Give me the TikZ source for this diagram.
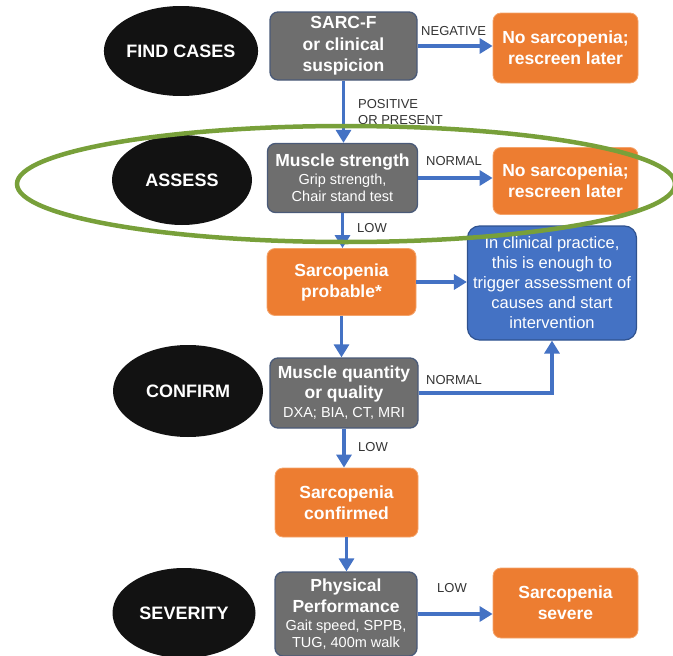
\documentclass[tikz,border=0pt]{standalone}
\usepackage{fontspec}
\setmainfont{Liberation Sans}
\usetikzlibrary{arrows.meta,shapes.geometric}
\definecolor{boxgray}{HTML}{6E6E6E}
\definecolor{slate}{HTML}{4A5A78}
\definecolor{orng}{HTML}{ED7D31}
\definecolor{orngline}{HTML}{F4A46C}
\definecolor{bluebox}{HTML}{4472C4}
\definecolor{blueline}{HTML}{2F528F}
\definecolor{arrowblue}{HTML}{4472C4}
\definecolor{lblgray}{HTML}{333333}
\definecolor{ringgreen}{HTML}{78A03A}
\begin{document}
\begin{tikzpicture}[x=1pt,y=-1pt,
  stage/.style={ellipse, fill=black!93, text=white, inner sep=0pt,
    minimum width=#1, minimum height=90pt,
    font=\bfseries\fontsize{18}{21}\selectfont},
  stage/.default=140pt,
  graybox/.style={draw=slate, line width=1.3pt, fill=boxgray, rounded corners=8pt,
    text=white, align=center, inner sep=0pt, font=\fontsize{14.5}{17}\selectfont},
  orangebox/.style={draw=orngline, line width=0.8pt, fill=orng, rounded corners=8pt,
    text=white, align=center, inner sep=0pt, font=\bfseries\fontsize{17.5}{21}\selectfont},
  bluenode/.style={draw=blueline, line width=1.2pt, fill=bluebox, rounded corners=12pt,
    text=white, align=center, inner sep=0pt, font=\fontsize{16.5}{20}\selectfont},
  arr/.style={draw=arrowblue, line width=3.4pt, -{Triangle[length=13pt,width=15pt]}},
  lbl/.style={font=\fontsize{13}{15}\selectfont, text=lblgray, inner sep=0pt, anchor=west}
]
\useasboundingbox (0,0) rectangle (673,656);

% stage ellipses
\node[stage] (fc) at (181,51) {FIND CASES};
\node[stage] (as) at (182,180) {ASSESS};
\node[stage=150pt, minimum height=92pt] (cf) at (188,391) {CONFIRM};
\node[stage=143pt, minimum height=90pt] (sv) at (184,613) {SEVERITY};

% main column
\node[graybox, minimum width=147pt, minimum height=68pt, font=\bfseries\fontsize{17.5}{21.5}\selectfont] (sarcf) at (343.5,46) {SARC-F\\or clinical\\suspicion};
\node[orangebox, minimum width=145pt, minimum height=70pt] (no1) at (565.5,48) {No sarcopenia;\\rescreen later};

\node[graybox, minimum width=150pt, minimum height=69pt] (str) at (342.5,178) {\textbf{\fontsize{17.5}{21}\selectfont Muscle strength}\\[1pt]Grip strength,\\Chair stand test};
\node[orangebox, minimum width=145pt, minimum height=67pt] (no2) at (565.5,181) {No sarcopenia;\\rescreen later};

\node[orangebox, minimum width=149pt, minimum height=67pt] (prob) at (341.5,282) {Sarcopenia\\probable*};
\node[bluenode, minimum width=169pt, minimum height=114pt] (blue) at (552,283) {In clinical practice,\\this is enough to\\trigger assessment of\\causes and start\\intervention};

\node[graybox, minimum width=148pt, minimum height=70pt] (qty) at (344,393) {\textbf{\fontsize{17.5}{21}\selectfont Muscle quantity}\\[3pt]\textbf{\fontsize{17.5}{21}\selectfont or quality}\\[2pt]DXA; BIA, CT, MRI};

\node[orangebox, minimum width=143pt, minimum height=69pt] (conf) at (346.5,502.5) {Sarcopenia\\confirmed};

\node[graybox, minimum width=142pt, minimum height=84pt] (perf) at (346,614) {\textbf{\fontsize{17.5}{21}\selectfont Physical}\\[4pt]\textbf{\fontsize{17.5}{21}\selectfont Performance}\\[1pt]Gait speed, SPPB,\\TUG, 400m walk};
\node[orangebox, minimum width=145pt, minimum height=70pt] (sev) at (565.5,603) {Sarcopenia\\severe};

% connectors
\draw[arr] (sarcf.south) -- (sarcf.south |- str.north);
\draw[arr] (sarcf.east) -- (sarcf.east -| no1.west);
\draw[arr] (str.east) -- (str.east -| no2.west);
\draw[arr] (str.south) -- (str.south |- prob.north);
\draw[arr] (prob.east) -- (prob.east -| blue.west);
\draw[arr] (prob.south) -- (prob.south |- qty.north);
\draw[arr] (qty.east) -| (blue.south);
\draw[arr] (qty.south) -- (qty.south |- conf.north);
\draw[arr] (conf.south) -- (conf.south |- perf.north);
\draw[arr] (perf.east) -- (perf.east -| sev.west);

% labels
\node[lbl] (l1) at (421,31) {NEGATIVE};
\node[lbl] (l2) at (358,104) {POSITIVE};
\node[lbl] (l3) at (358,120) {OR PRESENT};
\node[lbl] (l4) at (426,161) {NORMAL};
\node[lbl] (l5) at (357,228) {LOW};
\node[lbl] (l6) at (426,380) {NORMAL};
\node[lbl] (l7) at (358,447) {LOW};
\node[lbl] (l8) at (437,588) {LOW};

% highlight ring
\draw[ringgreen, line width=4.5pt] (346,184) ellipse [x radius=329pt, y radius=58pt];
\end{tikzpicture}
\end{document}
